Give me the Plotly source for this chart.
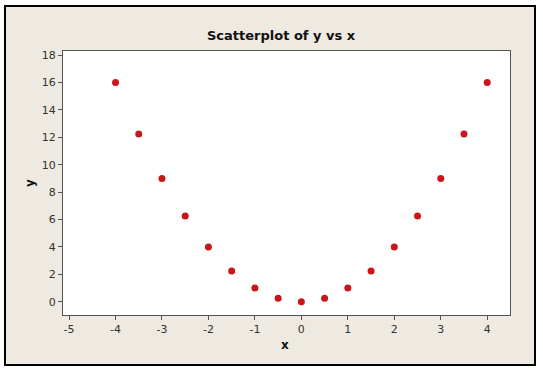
import plotly.graph_objects as go

x_vals = [-4.0, -3.5, -3.0, -2.5, -2.0, -1.5, -1.0, -0.5, 0.0, 0.5, 1.0, 1.5, 2.0, 2.5, 3.0, 3.5, 4.0]
y_vals = [16.0, 12.25, 9.0, 6.25, 4.0, 2.25, 1.0, 0.25, 0.0, 0.25, 1.0, 2.25, 4.0, 6.25, 9.0, 12.25, 16.0]
x_ticks = [-5, -4, -3, -2, -1, 0, 1, 2, 3, 4]
x_ticklabels = ["-5", "-4", "-3", "-2", "-1", "0", "1", "2", "3", "4"]
y_ticks = [0, 2, 4, 6, 8, 10, 12, 14, 16, 18]
y_ticklabels = ["0", "2", "4", "6", "8", "10", "12", "14", "16", "18"]

W, H = 543, 371
L, R, T, B = 63, 33, 51, 56
pw, ph = W - L - R, H - T - B

def px(xp):
    return (xp - L) / pw

def py(yp):
    return (H - B - yp) / ph

fig = go.Figure()
fig.add_trace(go.Scatter(
    x=x_vals, y=y_vals, mode="markers",
    marker=dict(color="#CC1518", size=7, line=dict(width=0)),
    hoverinfo="x+y", showlegend=False,
))

font_fam = "DejaVu Sans, Verdana, sans-serif"
axis_common = dict(
    showgrid=False, zeroline=False, showline=True, linecolor="#555555", linewidth=1,
    mirror=True, ticks="outside", ticklen=4, tickcolor="#555555", tickwidth=1,
    tickfont=dict(family=font_fam, size=11, color="#333333"),
)

fig.update_layout(
    width=W, height=H,
    margin=dict(l=L, r=R, t=T, b=B, autoexpand=False),
    paper_bgcolor="white", plot_bgcolor="white",
    xaxis=dict(range=[-5.13, 4.49], tickvals=x_ticks, ticktext=x_ticklabels, **axis_common),
    yaxis=dict(range=[-0.97, 18.3], tickvals=y_ticks, ticktext=y_ticklabels, **axis_common),
    shapes=[
        dict(type="rect", xref="paper", yref="paper",
             x0=px(5), x1=px(535), y0=py(365), y1=py(6),
             fillcolor="#EEEAE1", line=dict(color="black", width=2), layer="below"),
        dict(type="rect", xref="paper", yref="paper",
             x0=0, x1=1, y0=0, y1=1,
             fillcolor="white", line=dict(width=0), layer="below"),
    ],
    annotations=[
        dict(text="<b>Scatterplot of y vs x</b>", xref="paper", yref="paper",
             x=px(281), y=py(35), showarrow=False, xanchor="center", yanchor="middle",
             font=dict(family=font_fam, size=13, color="#111111")),
        dict(text="<b>x</b>", xref="paper", yref="paper",
             x=px(285), y=py(345), showarrow=False, xanchor="center", yanchor="middle",
             font=dict(family=font_fam, size=12, color="#111111")),
        dict(text="<b>y</b>", xref="paper", yref="paper",
             x=px(30), y=py(183), showarrow=False, xanchor="center", yanchor="middle",
             textangle=-90,
             font=dict(family=font_fam, size=12, color="#111111")),
    ],
)

fig.write_html("out.html", config={"displayModeBar": False},
               post_script="document.body.style.margin='0';document.body.style.overflow='hidden';")
